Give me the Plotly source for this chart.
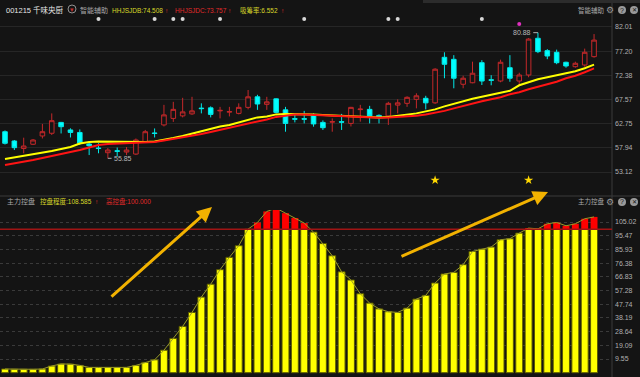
import numpy as np
import plotly.graph_objects as go

# ---------------- data ----------------
idx = list(range(64))
opens = [61.15, 59.3, 57.8, 58.65, 60.3, 60.84, 63.0, 61.5, 61.0, 58.7,
         57.9, 56.97, 57.35, 57.1, 56.7, 59.2, 60.9, 62.5, 63.8, 64.3,
         64.7, 65.85, 65.9, 65.3, 65.05, 64.8, 66.0, 68.1, 66.6, 67.7,
         65.5, 63.75, 63.75, 64.5, 63.0, 63.05, 63.15, 62.8, 65.55, 65.6,
         64.4, 64.3, 66.45, 66.8, 67.6, 67.8, 66.9, 75.97, 75.57, 70.6,
         70.9, 74.9, 71.5, 71.25, 73.9, 71.25, 72.45, 79.76, 77.3, 76.97,
         74.98, 74.1, 74.44, 76.1]
highs = [61.4, 59.5, 59.96, 59.7, 62.7, 64.8, 63.1, 61.83, 61.6, 59.2,
         58.85, 57.9, 58.0, 58.1, 59.8, 61.5, 61.8, 66.5, 67.1, 67.9,
         68.1, 66.8, 66.2, 66.1, 66.1, 66.8, 69.46, 68.5, 68.1, 67.8,
         66.1, 64.5, 65.3, 64.8, 63.4, 63.8, 64.7, 66.1, 66.5, 66.3,
         64.6, 67.1, 67.6, 68.2, 68.8, 68.3, 73.8, 76.97, 76.4, 72.3,
         75.1, 75.4, 72.4, 75.5, 76.4, 72.9, 79.8, 80.88, 77.6, 77.5,
         75.1, 75.1, 77.7, 80.6]
lows = [58.6, 57.5, 56.85, 58.5, 59.8, 60.5, 60.8, 60.0, 58.5, 56.5,
        56.85, 55.85, 56.2, 56.5, 56.5, 59.0, 60.0, 62.2, 63.1, 64.0,
        64.5, 64.8, 64.0, 63.8, 64.2, 64.6, 65.6, 65.5, 65.5, 64.8,
        61.15, 63.0, 62.8, 62.15, 61.5, 61.15, 61.5, 62.2, 63.15, 62.8,
        62.8, 62.5, 64.8, 66.1, 65.8, 65.6, 66.7, 71.8, 69.8, 69.8,
        70.8, 70.45, 70.4, 71.0, 71.1, 70.45, 72.0, 76.8, 75.6, 74.6,
        73.9, 73.9, 74.1, 75.9]
closes = [58.84, 57.97, 58.3, 59.5, 61.15, 63.35, 62.15, 61.0, 58.84, 58.35,
          57.8, 57.5, 57.25, 57.5, 59.5, 61.15, 60.8, 64.5, 65.6, 65.1,
          65.3, 65.75, 64.6, 65.4, 65.15, 66.0, 68.1, 66.67, 67.1, 65.0,
          62.8, 63.65, 63.65, 62.7, 61.95, 63.15, 63.05, 66.0, 65.65, 64.3,
          64.0, 66.8, 66.9, 68.0, 68.3, 66.9, 73.6, 74.58, 71.8, 71.8,
          72.8, 71.25, 71.4, 74.98, 71.8, 72.45, 79.6, 77.1, 76.23, 74.9,
          74.24, 74.78, 76.97, 79.4]
ma_b = [55.7, 56.0, 56.3, 56.6, 56.9, 57.3, 57.7, 58.1, 58.8, 59.1,
        59.2, 59.15, 59.1, 59.05, 59.05, 59.1, 59.2, 59.5, 59.9, 60.3,
        60.8, 61.3, 61.8, 62.2, 62.5, 63.0, 63.5, 64.0, 64.2, 64.6,
        64.7, 64.7, 64.65, 64.6, 64.5, 64.4, 64.3, 64.2, 64.1, 64.0,
        64.0, 64.1, 64.3, 64.5, 64.8, 65.2, 65.6, 66.2, 66.7, 67.3,
        67.7, 68.1, 68.5, 68.9, 69.3, 70.4, 71.0, 71.6, 72.0, 72.4,
        72.8, 73.2, 73.8, 74.508]
ma_c = [54.5, 54.8, 55.2, 55.5, 55.9, 56.3, 56.6, 57.0, 57.5, 58.0,
        58.5, 58.7, 58.8, 58.85, 58.9, 59.0, 59.1, 59.4, 59.7, 60.0,
        60.4, 60.7, 61.1, 61.5, 61.9, 62.3, 62.7, 63.2, 63.6, 64.1,
        64.4, 64.6, 64.6, 64.5, 64.4, 64.3, 64.2, 64.1, 64.0, 63.95,
        63.95, 64.0, 64.1, 64.2, 64.35, 64.6, 64.9, 65.3, 65.8, 66.3,
        66.8, 67.2, 67.6, 68.0, 68.6, 69.0, 69.6, 70.1, 70.6, 71.1,
        71.8, 72.3, 73.0, 73.757]
control = [2.6, 2.4, 2.4, 2.4, 2.6, 4.7, 6.1, 6.0, 5.1, 3.7,
           3.7, 3.7, 3.7, 3.7, 5.1, 7.2, 9.0, 15.7, 23.9, 32.3,
           42.0, 52.7, 61.7, 71.8, 80.4, 88.5, 100.1, 104.7, 112.4, 114.7,
           111.2, 107.8, 104.3, 98.0, 90.0, 81.5, 70.3, 64.6, 55.0, 48.5,
           44.5, 42.5, 42.0, 45.0, 51.3, 53.9, 62.5, 68.8, 69.9, 75.3,
           84.5, 86.2, 87.6, 92.7, 93.4, 97.3, 100.8, 100.3, 103.8, 104.7,
           102.4, 103.8, 107.3, 108.585]
dot_idx = [10, 16, 18, 19, 23, 32, 41, 42, 51]
pink_idx = [55]
star_idx = [46, 56]
top_ticks = [82.01, 77.20, 72.38, 67.57, 62.75, 57.94, 53.12]
bot_ticks = [105.02, 95.47, 85.93, 76.38, 66.83, 57.28, 47.74, 38.19, 28.64, 19.09, 9.55]
high_level = 100.0
max_label = "80.88"
min_label = "55.85"

# ---------------- style ----------------
BG = "#141414"
W, H = 640, 377
PLOT_W = 612
FONT = "Liberation Sans, Noto Sans CJK SC"
GRAY = "#a8a8a8"
YEL = "#d8d82a"
RED = "#e02a2a"

def px(x):
    return x / PLOT_W

def py(y):
    return (H - y) / H

fig = go.Figure()

fig.add_trace(go.Candlestick(
    x=idx, open=opens, high=highs, low=lows, close=closes,
    increasing=dict(line=dict(color="#c4282a", width=1), fillcolor=BG),
    decreasing=dict(line=dict(color="#00e8e8", width=1), fillcolor="#00ffff"),
    whiskerwidth=0, xaxis="x", yaxis="y", hoverinfo="skip"))

fig.add_trace(go.Scatter(x=idx, y=ma_b, mode="lines",
                         line=dict(color="#ffff00", width=2), xaxis="x", yaxis="y"))
fig.add_trace(go.Scatter(x=idx, y=ma_c, mode="lines",
                         line=dict(color="#ff1414", width=2), xaxis="x", yaxis="y"))

# signal marks
fig.add_trace(go.Scatter(x=dot_idx, y=[83.6] * len(dot_idx), mode="markers",
                         marker=dict(color="#d8d8d8", size=4), xaxis="x", yaxis="y",
                         cliponaxis=False))
fig.add_trace(go.Scatter(x=pink_idx, y=[82.6] * len(pink_idx), mode="markers",
                         marker=dict(color="#e030c0", size=4), xaxis="x", yaxis="y",
                         cliponaxis=False))
fig.add_trace(go.Scatter(x=star_idx, y=[51.5] * len(star_idx), mode="markers",
                         marker=dict(color="#ffd800", size=7, symbol="star"),
                         xaxis="x", yaxis="y"))

# bottom panel bars
ctl = np.array(control)
yellow_part = np.minimum(ctl, high_level)
red_part = np.clip(ctl - high_level, 0, None)
fig.add_trace(go.Bar(x=idx, y=yellow_part, width=0.74,
                     marker=dict(color="#ffff00", line=dict(color="#5a5a00", width=1)),
                     xaxis="x2", yaxis="y2", hoverinfo="skip"))
fig.add_trace(go.Bar(x=idx, y=red_part, base=high_level, width=0.74,
                     marker=dict(color="#ff0000", line=dict(width=0)),
                     xaxis="x2", yaxis="y2", hoverinfo="skip"))
fig.add_trace(go.Scatter(x=idx, y=control, mode="lines",
                         line=dict(color="#9a9a28", width=1), xaxis="x2", yaxis="y2"))

xr = [-5 / 9.35, -5 / 9.35 + PLOT_W / 9.35]
axis_common = dict(showgrid=False, zeroline=False, showticklabels=False,
                   range=xr, fixedrange=True)

fig.update_layout(
    width=W, height=H, paper_bgcolor=BG, plot_bgcolor=BG,
    margin=dict(l=0, r=W - PLOT_W, t=0, b=0),
    showlegend=False, barmode="overlay", hovermode=False,
    font=dict(family=FONT, color=GRAY, size=7),
    xaxis=dict(domain=[0, 1], anchor="y", rangeslider=dict(visible=False), **axis_common),
    xaxis2=dict(domain=[0, 1], anchor="y2", **axis_common),
    yaxis=dict(domain=[py(192), py(18)], range=[49.14, 83.80], side="right",
               tickvals=top_ticks, ticktext=[f"{v:.2f}" for v in top_ticks],
               showgrid=True, gridcolor="#262626", gridwidth=1, zeroline=False,
               ticks="", ticklabelstandoff=2, fixedrange=True,
               tickfont=dict(size=7, color="#b0b0b0", family=FONT)),
    yaxis2=dict(domain=[py(374), py(210)], range=[-0.9, 113.4], side="right",
                tickvals=bot_ticks, ticktext=[f"{v:.2f}" for v in bot_ticks],
                showgrid=True, gridcolor="#3a3a3a", griddash="dot", gridwidth=1,
                zeroline=False, ticks="", ticklabelstandoff=2, fixedrange=True,
                tickfont=dict(size=7, color="#b0b0b0", family=FONT)),
)

shapes = [
    dict(type="line", xref="paper", yref="paper", x0=1, x1=1, y0=0, y1=1,
         line=dict(color="#3a3a3a", width=1)),
    dict(type="line", xref="paper", yref="paper", x0=0, x1=px(W), y0=py(196), y1=py(196),
         line=dict(color="#3a3a3a", width=1)),
    dict(type="line", xref="x2 domain", yref="y2", x0=0, x1=1, y0=high_level, y1=high_level,
         line=dict(color="#a01414", width=1.5)),
    dict(type="rect", xref="paper", yref="paper", x0=px(423), x1=px(W), y0=py(3), y1=py(0),
         line=dict(width=0), fillcolor="#2c2c2c"),
    dict(type="circle", xref="paper", yref="paper", x0=px(68), x1=px(76), y0=py(13), y1=py(5),
         line=dict(color="#909090", width=1)),
    dict(type="line", xref="x", yref="y", x0=56.5, x1=57, y0=80.88, y1=80.88,
         line=dict(color="#b0b0b0", width=1)),
    dict(type="line", xref="x", yref="y", x0=11, x1=11.4, y0=55.85, y1=55.85,
         line=dict(color="#b0b0b0", width=1)),
]
for cy in (10, 202):
    for cx in (622, 634):
        shapes.append(dict(type="circle", xref="paper", yref="paper",
                           x0=px(cx - 4), x1=px(cx + 4), y0=py(cy + 4), y1=py(cy - 4),
                           line=dict(width=0), fillcolor="#9a9a9a"))
fig.update_layout(shapes=shapes)

anns = []

def txt(x, y, s, color, size=7.0, anchor="left"):
    anns.append(dict(xref="paper", yref="paper", x=px(x), y=py(y), text=s,
                     showarrow=False, xanchor=anchor, yanchor="middle",
                     font=dict(family=FONT, size=size, color=color)))

# top header
txt(4, 10, "001215 千味央厨", "#e6e6e6", 7.5)
txt(72, 9.5, "▾", "#c03030", 7, "center")
txt(78, 10, "智能辅助", GRAY, 7)
txt(110, 10, "HHJSJDB:74.508", YEL, 6.5)
txt(163, 10, "↑", RED, 6.5)
txt(173, 10, "HHJSJDC:73.757", RED, 6.5)
txt(226, 10, "↑", RED, 6.5)
txt(238, 10, "吸筹率:6.552", YEL, 6.5)
txt(279, 10, "↑", RED, 6.5)
# bottom header
txt(5, 201, "主力控盘", GRAY, 7)
txt(38, 201, "控盘程度:108.585", YEL, 6.5)
txt(93, 201, "↑", RED, 6.5)
txt(104, 201, "高控盘:100.000", RED, 6.5)
# right side headers
for cy, label in ((10, "智能辅助"), (202, "主力控盘")):
    txt(576, cy, label, GRAY, 6.5)
    txt(610, cy, "⚙", "#9a9a9a", 9, "center")
    txt(622, cy, "?", BG, 7, "center")
    txt(634, cy, "✕", BG, 6, "center")

# max / min labels
anns.append(dict(xref="x", yref="y", x=56.5, y=80.88, text=max_label, showarrow=False,
                 xanchor="right", yanchor="middle",
                 font=dict(family=FONT, size=7, color="#b8b8b8")))
anns.append(dict(xref="x", yref="y", x=11.4, y=55.85, text=min_label, showarrow=False,
                 xanchor="left", yanchor="middle",
                 font=dict(family=FONT, size=7, color="#b8b8b8")))

# arrows
for hx, hy, tx, ty in ((212, 207, 110, 298), (548, 192, 400, 257)):
    anns.append(dict(xref="paper", yref="paper", x=px(hx), y=py(hy), text="",
                     showarrow=True, ax=tx - hx, ay=ty - hy,
                     arrowcolor="#f2b200", arrowwidth=3, arrowhead=2, arrowsize=1))

fig.update_layout(annotations=anns)

fig.write_html("out.html", config={"displayModeBar": False},
               post_script="document.body.style.margin='0px';")
